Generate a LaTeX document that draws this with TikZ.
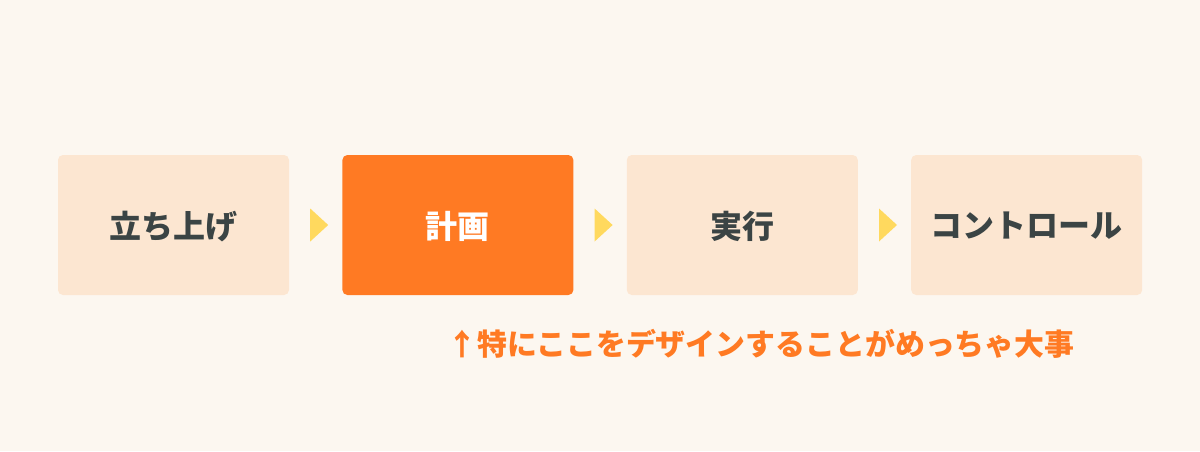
\documentclass[tikz,border=0pt]{standalone}
\usepackage{fontspec}
\newfontfamily\jp{Noto Sans CJK JP}
\usetikzlibrary{positioning}
\definecolor{bgcol}{HTML}{FCF7F0}
\definecolor{boxcol}{HTML}{FCE6D1}
\definecolor{hotcol}{HTML}{FF7A23}
\definecolor{inkcol}{HTML}{3B4444}
\definecolor{tipcol}{HTML}{FFD95E}
\begin{document}
\begin{tikzpicture}[x=1pt, y=-1pt, font=\jp\bfseries\fontsize{32}{36}\selectfont]
	\tikzset{phase/.style={fill=boxcol, text=inkcol, rounded corners=5pt, minimum width=231pt, minimum height=140pt, inner sep=0pt, text depth=-4pt},
		tip/.style={fill=tipcol}}
	\fill[bgcol] (0,0) rectangle (1200,451);
	\useasboundingbox (0,0) rectangle (1200,451);
	\node[phase] (start) at (173.5,225) {立ち上げ};
	\node[phase, fill=hotcol, text=white, right=53pt of start] (plan) {計画};
	\node[phase, right=53pt of plan] (exec) {実行};
	\node[phase, right=53pt of exec] (ctrl) {コントロール};
	\fill[tip] ([xshift=21pt,yshift=16.5pt]start.east) -- ([xshift=39pt]start.east) -- ([xshift=21pt,yshift=-16.5pt]start.east) -- cycle;
	\fill[tip] ([xshift=21pt,yshift=16.5pt]plan.east) -- ([xshift=39pt]plan.east) -- ([xshift=21pt,yshift=-16.5pt]plan.east) -- cycle;
	\fill[tip] ([xshift=21pt,yshift=16.5pt]exec.east) -- ([xshift=39pt]exec.east) -- ([xshift=21pt,yshift=-16.5pt]exec.east) -- cycle;
	\node[text=hotcol, font=\jp\bfseries\fontsize{29.9}{36}\selectfont, anchor=west, inner sep=0pt] (note) at (447,344) {↑特にここをデザインすることがめっちゃ大事};
\end{tikzpicture}
\end{document}
